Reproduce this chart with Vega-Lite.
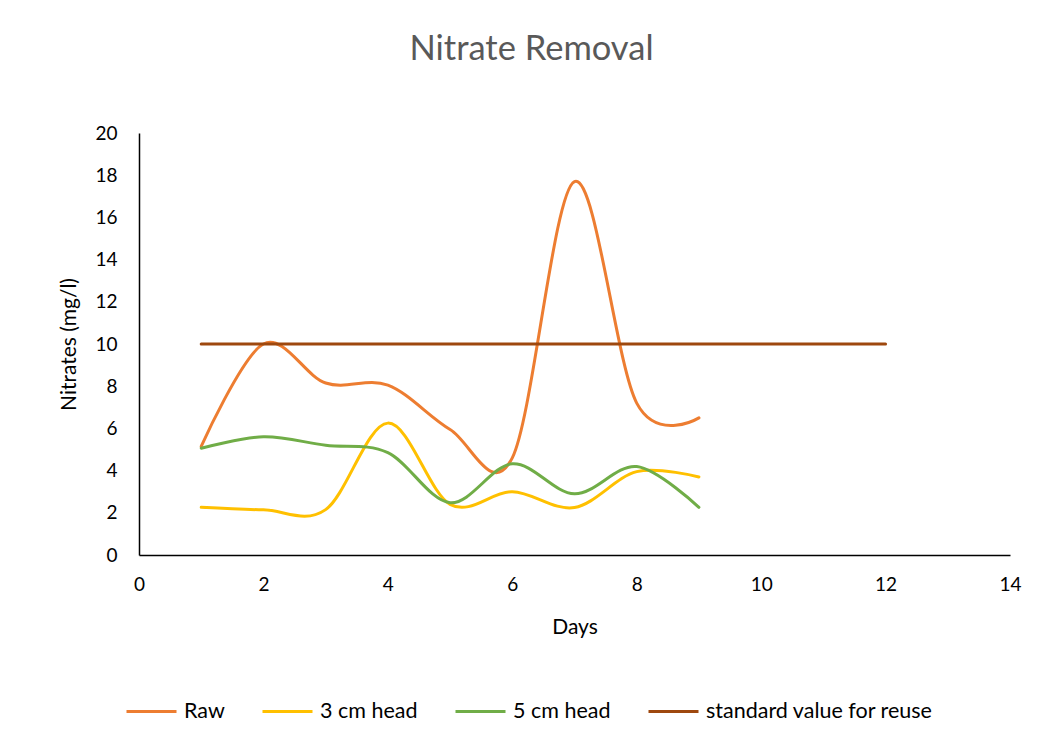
{
  "$schema": "https://vega.github.io/schema/vega-lite/v6.json",
  "width": 871,
  "height": 422,
  "autosize": {"type": "none"},
  "padding": {"left": 139, "top": 133, "right": 34, "bottom": 189},
  "background": "white",
  "title": {
    "text": "Nitrate Removal",
    "font": "Lato",
    "fontSize": 34.5,
    "fontWeight": "normal",
    "color": "#595959",
    "anchor": "middle",
    "dx": -43,
    "offset": 57
  },
  "data": {
    "values": [
      {"day": 1, "value": 5.15, "series": "Raw", "order": 1},
      {"day": 2, "value": 10.0, "series": "Raw", "order": 1},
      {"day": 3, "value": 8.15, "series": "Raw", "order": 1},
      {"day": 4, "value": 8.05, "series": "Raw", "order": 1},
      {"day": 5, "value": 5.95, "series": "Raw", "order": 1},
      {"day": 6, "value": 4.6, "series": "Raw", "order": 1},
      {"day": 7, "value": 17.7, "series": "Raw", "order": 1},
      {"day": 8, "value": 7.2, "series": "Raw", "order": 1},
      {"day": 9, "value": 6.5, "series": "Raw", "order": 1},
      {"day": 1, "value": 2.26, "series": "3 cm head", "order": 2},
      {"day": 2, "value": 2.14, "series": "3 cm head", "order": 2},
      {"day": 3, "value": 2.15, "series": "3 cm head", "order": 2},
      {"day": 4, "value": 6.25, "series": "3 cm head", "order": 2},
      {"day": 5, "value": 2.4, "series": "3 cm head", "order": 2},
      {"day": 6, "value": 3.0, "series": "3 cm head", "order": 2},
      {"day": 7, "value": 2.25, "series": "3 cm head", "order": 2},
      {"day": 8, "value": 3.95, "series": "3 cm head", "order": 2},
      {"day": 9, "value": 3.7, "series": "3 cm head", "order": 2},
      {"day": 1, "value": 5.06, "series": "5 cm head", "order": 3},
      {"day": 2, "value": 5.6, "series": "5 cm head", "order": 3},
      {"day": 3, "value": 5.2, "series": "5 cm head", "order": 3},
      {"day": 4, "value": 4.85, "series": "5 cm head", "order": 3},
      {"day": 5, "value": 2.48, "series": "5 cm head", "order": 3},
      {"day": 6, "value": 4.32, "series": "5 cm head", "order": 3},
      {"day": 7, "value": 2.9, "series": "5 cm head", "order": 3},
      {"day": 8, "value": 4.19, "series": "5 cm head", "order": 3},
      {"day": 9, "value": 2.26, "series": "5 cm head", "order": 3},
      {"day": 1, "value": 10, "series": "standard value for reuse", "order": 4},
      {"day": 12, "value": 10, "series": "standard value for reuse", "order": 4}
    ]
  },
  "mark": {"type": "line", "interpolate": "cardinal", "strokeWidth": 3, "strokeCap": "round"},
  "encoding": {
    "x": {
      "field": "day",
      "type": "quantitative",
      "scale": {"domain": [0, 14], "nice": false, "zero": true},
      "axis": {
        "title": "Days",
        "values": [0, 2, 4, 6, 8, 10, 12, 14],
        "grid": false,
        "ticks": false,
        "labelFlush": false,
        "labelPadding": 20,
        "titlePadding": 22
      }
    },
    "y": {
      "field": "value",
      "type": "quantitative",
      "scale": {"domain": [0, 20], "nice": false},
      "axis": {
        "title": "Nitrates (mg/l)",
        "values": [0, 2, 4, 6, 8, 10, 12, 14, 16, 18, 20],
        "grid": false,
        "ticks": false,
        "labelFlush": false,
        "labelPadding": 22,
        "titlePadding": 15
      }
    },
    "color": {
      "field": "series",
      "type": "nominal",
      "sort": ["Raw", "3 cm head", "5 cm head", "standard value for reuse"],
      "scale": {
        "domain": ["Raw", "3 cm head", "5 cm head", "standard value for reuse"],
        "range": ["#ED7D31", "#FFC000", "#70AD47", "#9E480E"]
      },
      "legend": {
        "title": null,
        "orient": "none",
        "direction": "horizontal",
        "legendX": -14,
        "legendY": 552,
        "symbolType": "stroke",
        "symbolSize": 2500,
        "symbolStrokeWidth": 3,
        "labelFont": "Lato",
        "labelFontSize": 21.5,
        "labelColor": "#000000",
        "labelOffset": 6,
        "labelLimit": 400,
        "columnPadding": 31
      }
    },
    "detail": {"field": "order", "type": "quantitative"}
  },
  "config": {
    "view": {"stroke": null},
    "axis": {
      "domainColor": "#000000",
      "domainWidth": 1.5,
      "labelFont": "Lato",
      "labelFontSize": 19,
      "labelColor": "#000000",
      "titleFont": "Lato",
      "titleFontSize": 21,
      "titleFontWeight": "normal",
      "titleColor": "#000000"
    }
  }
}
